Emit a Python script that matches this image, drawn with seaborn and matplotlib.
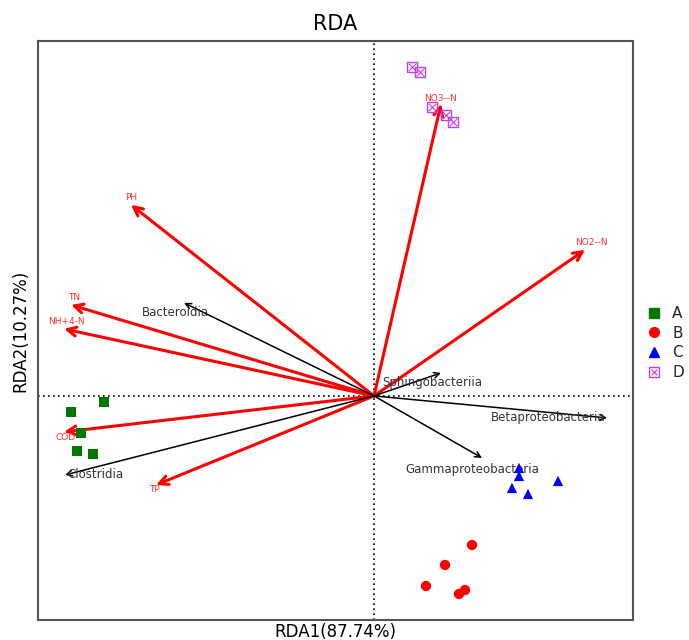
import seaborn as sns
import pandas as pd
import matplotlib.pyplot as plt
from matplotlib.lines import Line2D

# sample scores
groups = ['A'] * 5 + ['B'] * 5 + ['C'] * 5 + ['D'] * 5
rda1 = [-3.03, -2.70, -2.93, -2.97, -2.81,
        0.98, 0.71, 0.52, 0.91, 0.85,
        1.45, 1.45, 1.84, 1.38, 1.54,
        0.38, 0.46, 0.58, 0.72, 0.79]
rda2 = [-0.16, -0.06, -0.37, -0.55, -0.58,
        -1.49, -1.69, -1.90, -1.94, -1.98,
        -0.72, -0.80, -0.85, -0.92, -0.98,
        3.29, 3.24, 2.89, 2.81, 2.74]

# environmental factors (red arrows)
env_names = ['NO3--N', 'PH', 'NO2--N', 'TN', 'NH+4-N', 'COD', 'TP']
env_x = [0.67, -2.43, 2.11, -3.03, -3.10, -3.10, -2.18]
env_y = [2.92, 1.91, 1.46, 0.91, 0.67, -0.36, -0.89]

# taxa (black arrows)
taxa_names = ['Bacteroidia', 'Clostridia', 'Sphingobacteriia',
              'Betaproteobacteria', 'Gammaproteobacteria']
taxa_x = [-1.90, -3.09, 0.67, 2.33, 1.08]
taxa_y = [0.93, -0.79, 0.23, -0.22, -0.62]

df = pd.DataFrame({'RDA1': rda1, 'RDA2': rda2, 'group': groups})

sns.set_style('white')
fig = plt.figure(figsize=(6.89, 6.4), dpi=100)
ax = fig.add_axes([0.0552, 0.03125, 0.8635, 0.905])

colors = {'A': '#007800', 'B': '#ff0000', 'C': '#0000ff', 'D': '#c040e0'}

# reference lines
ax.axhline(0, color='black', ls=(0, (1, 2)), lw=1.2, zorder=1)
ax.axvline(0, color='black', ls=(0, (1, 2)), lw=1.2, zorder=1)

# arrows
for name, x, y in zip(env_names, env_x, env_y):
    ax.annotate('', xy=(x, y), xytext=(0, 0),
                arrowprops=dict(arrowstyle='->', color='red', lw=2.2,
                                mutation_scale=16, shrinkA=0, shrinkB=0))
for name, x, y in zip(taxa_names, taxa_x, taxa_y):
    ax.annotate('', xy=(x, y), xytext=(0, 0),
                arrowprops=dict(arrowstyle='->', color='black', lw=1.1,
                                mutation_scale=10, shrinkA=0, shrinkB=0))

# arrow labels (offsets in points)
env_off = {'NO3--N': (0, 4), 'PH': (0, 5), 'NO2--N': (5, 5), 'TN': (2, 5),
           'NH+4-N': (2, 5), 'COD': (1, -4), 'TP': (-1, -3)}
for name, x, y in zip(env_names, env_x, env_y):
    ax.annotate(name, (x, y), xytext=env_off[name], textcoords='offset points',
                ha='center', va='center', color='#ff3030', fontsize=6.5)
taxa_off = {'Bacteroidia': (-6, -7), 'Clostridia': (22, 0),
            'Sphingobacteriia': (-6, -7), 'Betaproteobacteria': (-42, 0),
            'Gammaproteobacteria': (-7, -8)}
for name, x, y in zip(taxa_names, taxa_x, taxa_y):
    ax.annotate(name, (x, y), xytext=taxa_off[name], textcoords='offset points',
                ha='center', va='center', color='#333333', fontsize=8.5)

# samples
abc = df[df['group'] != 'D']
sns.scatterplot(data=abc, x='RDA1', y='RDA2', hue='group', style='group',
                markers={'A': 's', 'B': 'o', 'C': '^'}, palette=colors,
                s=55, edgecolor='none', legend=False, ax=ax, zorder=3)
dd = df[df['group'] == 'D']
ax.scatter(dd['RDA1'], dd['RDA2'], marker='s', s=55, facecolors='none',
           edgecolors=colors['D'], linewidths=1.0, zorder=3)
ax.scatter(dd['RDA1'], dd['RDA2'], marker='x', s=30, color=colors['D'],
           linewidths=0.8, zorder=3)

ax.set_xlim(-3.36, 2.59)
ax.set_ylim(-2.24, 3.55)
ax.set_xticks([])
ax.set_yticks([])
for sp in ax.spines.values():
    sp.set_color('#555555')
    sp.set_linewidth(1.5)

ax.set_title('RDA', fontsize=15, pad=8, color='black')
ax.set_xlabel('RDA1(87.74%)', fontsize=12, labelpad=2, color='black')
ax.set_ylabel('RDA2(10.27%)', fontsize=12, labelpad=6, color='black')

handles = [
    Line2D([], [], marker='s', ls='', color=colors['A'], markersize=7),
    Line2D([], [], marker='o', ls='', color=colors['B'], markersize=7),
    Line2D([], [], marker='^', ls='', color=colors['C'], markersize=7),
    (Line2D([], [], marker='s', ls='', markerfacecolor='none',
            markeredgecolor=colors['D'], markersize=7),
     Line2D([], [], marker='x', ls='', color=colors['D'], markersize=5,
            markeredgewidth=0.8)),
]
fig.legend(handles, ['A', 'B', 'C', 'D'], loc='center left',
           bbox_to_anchor=(0.927, 0.464), frameon=False, fontsize=11,
           handletextpad=0.6, labelspacing=0.3, handlelength=1.2,
           borderaxespad=0)

fig.savefig('out.png', dpi=100)
